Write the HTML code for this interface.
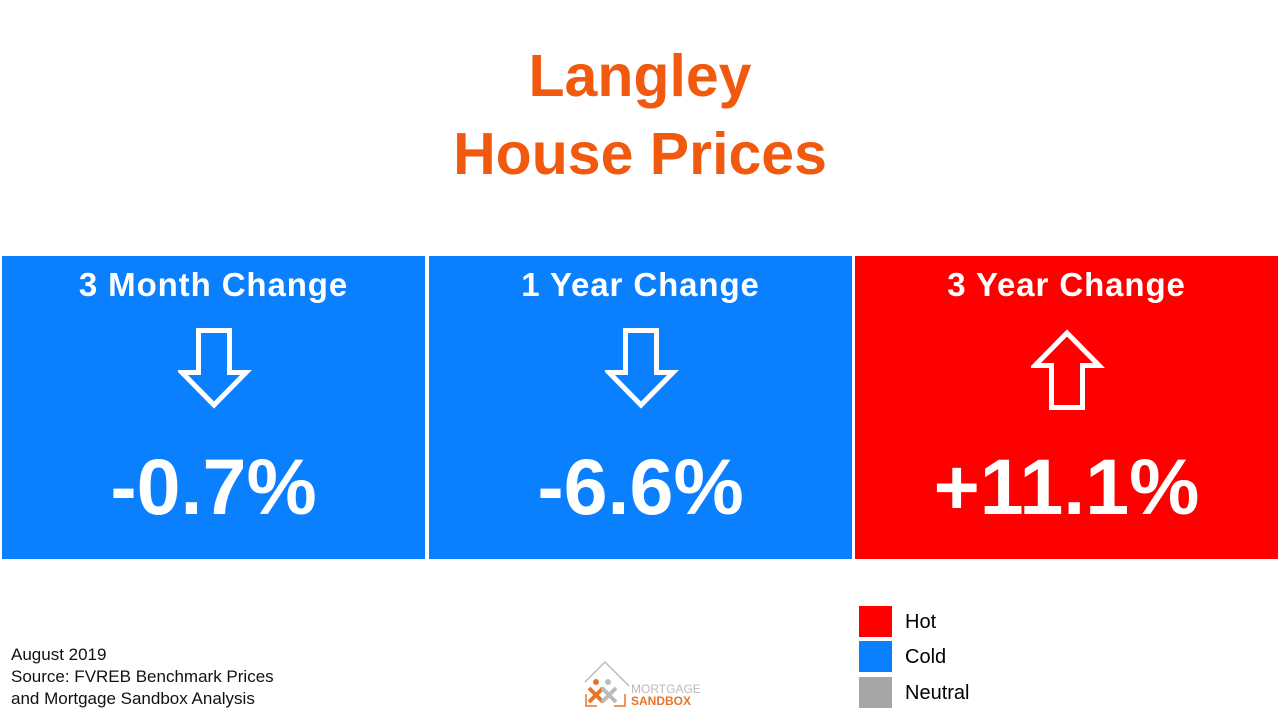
<!DOCTYPE html>
<html><head><meta charset="utf-8"><style>
body{margin:0;width:1280px;height:720px;background:#fff;position:relative;overflow:hidden;font-family:"Liberation Sans",sans-serif}
.t{position:absolute;left:0;width:1280px;text-align:center;color:#f15a0e;font-weight:bold;font-size:59px;line-height:1}
.p{position:absolute;top:256px;height:303px;width:423px;color:#fff;text-align:center}
.h{position:absolute;top:10px;width:100%;font-size:33px;font-weight:bold;letter-spacing:0.9px}
.v{position:absolute;top:185px;width:100%;font-size:79px;font-weight:bold}
.a{position:absolute;left:176px;top:72px}
.sw{position:absolute;left:859px;width:33px;height:31px}
.lt{position:absolute;left:905px;font-size:20px;color:#000}
.src{position:absolute;left:11px;top:644px;font-size:17px;line-height:22px;color:#111}
</style></head><body>
<div class="t" style="top:47px">Langley</div>
<div class="t" style="top:125px">House Prices</div>

<div class="p" style="left:2px;background:#0a80ff">
<div class="h">3 Month Change</div>
<svg class="a" width="74" height="82"><path d="M20.5 2.5H51.5V44.5H68L36 77 4 44.5H20.5Z" fill="none" stroke="#fff" stroke-width="5"/></svg>
<div class="v">-0.7%</div></div>

<div class="p" style="left:429px;background:#0a80ff">
<div class="h">1 Year Change</div>
<svg class="a" width="74" height="82"><path d="M20.5 2.5H51.5V44.5H68L36 77 4 44.5H20.5Z" fill="none" stroke="#fff" stroke-width="5"/></svg>
<div class="v">-6.6%</div></div>

<div class="p" style="left:855px;background:#ff0000">
<div class="h">3 Year Change</div>
<svg class="a" width="74" height="82"><path d="M20.5 79.5H51.5V37.5H68L36 5 4 37.5H20.5Z" fill="none" stroke="#fff" stroke-width="5"/></svg>
<div class="v">+11.1%</div></div>

<div class="sw" style="top:606px;background:#ff0000"></div>
<div class="lt" style="top:611px">Hot</div>
<div class="sw" style="top:641px;background:#0a80ff"></div>
<div class="lt" style="top:646px">Cold</div>
<div class="sw" style="top:677px;background:#a6a6a6"></div>
<div class="lt" style="top:682px">Neutral</div>

<div class="src">August 2019<br>Source: FVREB Benchmark Prices<br>and Mortgage Sandbox Analysis</div>

<svg style="position:absolute;left:583px;top:660px" width="120" height="50">
<path d="M2 22L22 2 46 26" fill="none" stroke="#bbb" stroke-width="1.5"/>
<path d="M3 34V46H14M42 34V46H31" fill="none" stroke="#e8742a" stroke-width="1.5"/>
<circle cx="13" cy="22" r="3" fill="#e8742a"/><path d="M6 28L20 42M20 28L6 42" stroke="#e8742a" stroke-width="4"/>
<circle cx="25" cy="22" r="3" fill="#bbb"/><path d="M19 28L33 42M33 28L19 42" stroke="#bbb" stroke-width="4"/>
<text x="48" y="33" font-size="12" fill="#bbb" font-family="Liberation Sans">MORTGAGE</text>
<text x="48" y="45" font-size="12" font-weight="bold" fill="#e8742a" font-family="Liberation Sans">SANDBOX</text>
</svg>
</body></html>
